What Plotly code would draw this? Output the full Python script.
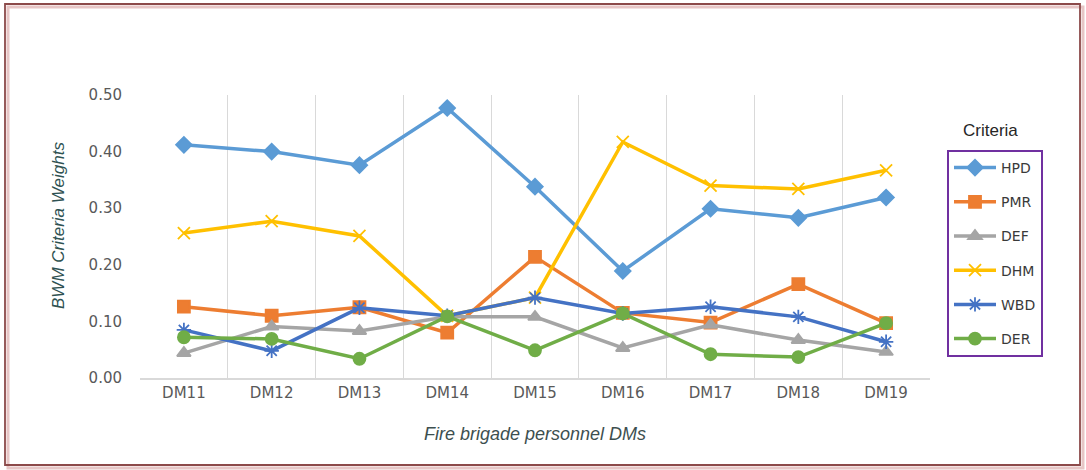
import plotly.graph_objects as go

# Decision makers (fire brigade personnel)
dms = ["DM11", "DM12", "DM13", "DM14", "DM15", "DM16", "DM17", "DM18", "DM19"]

# BWM criteria weights per decision maker
hpd = [0.412, 0.400, 0.376, 0.477, 0.338, 0.189, 0.299, 0.283, 0.319]
pmr = [0.126, 0.110, 0.125, 0.080, 0.214, 0.115, 0.098, 0.166, 0.097]
def_ = [0.044, 0.091, 0.083, 0.108, 0.108, 0.053, 0.094, 0.067, 0.046]
dhm = [0.256, 0.277, 0.251, 0.110, 0.142, 0.417, 0.340, 0.334, 0.367]
wbd = [0.085, 0.048, 0.124, 0.110, 0.142, 0.114, 0.126, 0.108, 0.064]
der = [0.072, 0.069, 0.034, 0.109, 0.049, 0.114, 0.042, 0.037, 0.097]

y_ticks = [0.0, 0.1, 0.2, 0.3, 0.4, 0.5]

series = [
    ("HPD", hpd, "#5b9bd5", "diamond", 12),
    ("PMR", pmr, "#ed7d31", "square", 12),
    ("DEF", def_, "#a5a5a5", "triangle-up", 12),
    ("DHM", dhm, "#ffc000", "x-thin-open", 12),
    ("WBD", wbd, "#4472c4", "asterisk-open", 12),
    ("DER", der, "#70ad47", "circle", 12),
]

W, H = 1086, 470
L, R, T, B = 140, 930, 95, 378  # plot area in pixels


def px(x):
    return (x - L) / (R - L)


def py(y):
    return (B - y) / (B - T)


fig = go.Figure()
for i, (name, vals, color, sym, size) in enumerate(series):
    fig.add_trace(go.Scatter(
        x=dms, y=vals, name=name, mode="lines+markers",
        legendgroup=f"g{i}",
        line=dict(color=color, width=3.5),
        marker=dict(symbol=sym, size=size, color=color,
                    line=dict(color=color, width=1.8)),
    ))

fig.update_layout(
    width=W, height=H,
    margin=dict(l=L, r=W - R, t=T, b=H - B),
    paper_bgcolor="white", plot_bgcolor="white",
    font=dict(family="DejaVu Sans, sans-serif", color="#595959"),
    showlegend=True,
    legend=dict(
        x=px(947), y=py(150), xanchor="left", yanchor="top",
        bordercolor="#7030a0", borderwidth=2,
        font=dict(size=14, color="#3a3a3a", family="DejaVu Sans, sans-serif"),
        tracegroupgap=13, itemwidth=42,
        bgcolor="white",
    ),
)

fig.update_xaxes(
    type="category", range=[-0.5, len(dms) - 0.5],
    tickson="boundaries", showgrid=True, gridcolor="#d9d9d9", gridwidth=1.3,
    showline=True, linecolor="#d9d9d9", linewidth=1.5,
    ticks="outside", ticklen=19, tickcolor="rgba(0,0,0,0)",
    tickfont=dict(size=15, color="#595959", family="DejaVu Sans, sans-serif"),
    zeroline=False,
)
fig.update_yaxes(
    range=[0, 0.5], tickvals=y_ticks, tickformat=".2f",
    showgrid=False, zeroline=False, showline=False,
    ticks="outside", ticklen=14, tickcolor="rgba(0,0,0,0)",
    tickfont=dict(size=15, color="#595959", family="DejaVu Sans, sans-serif"),
)

# Axis titles
fig.add_annotation(
    text="<i>Fire brigade personnel DMs</i>", x=0.5, y=py(434),
    xref="paper", yref="paper", showarrow=False,
    font=dict(size=18, color="#3d4f4f", family="Liberation Sans, Arial, sans-serif"),
    xanchor="center", yanchor="middle",
)
fig.add_annotation(
    text="<i>BWM Criteria Weights</i>", x=px(58), y=py(226),
    xref="paper", yref="paper", showarrow=False, textangle=-90,
    font=dict(size=17, color="#2f5252", family="Liberation Sans, Arial, sans-serif"),
    xanchor="center", yanchor="middle",
)

# Legend heading
fig.add_annotation(
    text="Criteria", x=px(990), y=py(130),
    xref="paper", yref="paper", showarrow=False,
    font=dict(size=17, color="#262626", family="Liberation Sans, Arial, sans-serif"),
    xanchor="center", yanchor="middle",
)

# Outer frame with a soft shadow
fig.add_shape(type="rect", xref="paper", yref="paper",
              x0=px(8), x1=px(1083), y0=py(7), y1=py(468),
              line=dict(color="#e7c6c6", width=3), layer="below")
fig.add_shape(type="rect", xref="paper", yref="paper",
              x0=px(5), x1=px(1080), y0=py(4), y1=py(465),
              line=dict(color="#8c4a4a", width=1.8), layer="below")

fig.write_html("out.html")
